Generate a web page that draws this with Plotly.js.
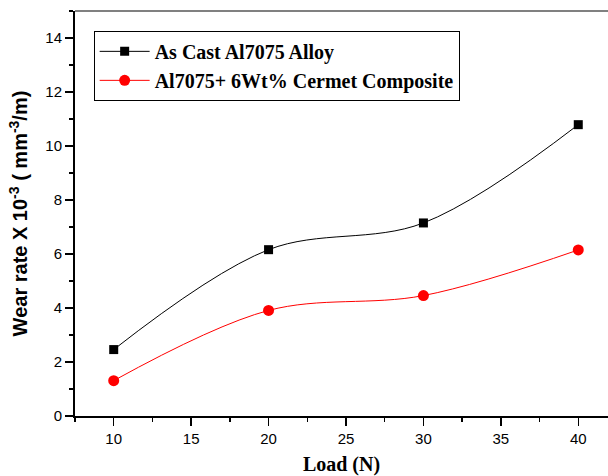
<!DOCTYPE html>
<html><head><meta charset="utf-8">
<script src="https://cdn.plot.ly/plotly-3.0.1.min.js"></script>
<style>html,body{margin:0;padding:0;background:#fff;}#chart{width:608px;height:476px;}</style>
</head><body><div id="chart"></div>
<script>
const loads = [10, 20, 30, 40];
const asCast = [2.46, 6.16, 7.15, 10.79];
const composite = [1.31, 3.91, 4.46, 6.15];
const seriesNames = ["As Cast Al7075 Alloy", "Al7075+ 6Wt% Cermet Composite"];

const traces = [
  {x: loads, y: asCast, name: seriesNames[0], mode: 'lines+markers', type: 'scatter',
   line: {color: '#000000', width: 1, shape: 'spline', smoothing: 1},
   marker: {symbol: 'square', size: 9, color: '#000000'}},
  {x: loads, y: composite, name: seriesNames[1], mode: 'lines+markers', type: 'scatter',
   line: {color: '#ff0000', width: 1, shape: 'spline', smoothing: 1},
   marker: {symbol: 'circle', size: 11, color: '#ff0000'}}
];

const layout = {
  width: 608, height: 476,
  margin: {l: 75, r: 0, t: 11, b: 60},
  paper_bgcolor: '#ffffff', plot_bgcolor: '#ffffff',
  showlegend: true,
  legend: {x: 0.035, y: 0.951, xanchor: 'left', yanchor: 'top',
    bordercolor: '#000000', borderwidth: 1, bgcolor: '#ffffff',
    font: {family: 'Liberation Serif, Times New Roman, serif', size: 20, color: '#000000', weight: 'bold'},
    tracegroupgap: 0, itemwidth: 50},
  xaxis: {range: [7.5, 41.92], tick0: 10, dtick: 5, ticks: 'outside', ticklen: 8, tickwidth: 1.5,
    tickcolor: '#000', showline: true, linecolor: '#000', linewidth: 2, zeroline: false, showgrid: false,
    tickfont: {family: 'Liberation Sans, Arial, sans-serif', size: 15, color: '#000'},
    minor: {dtick: 2.5, tick0: 7.5, ticks: 'outside', ticklen: 4, tickwidth: 1.5, tickcolor: '#000', showgrid: false},
    title: {text: '<b>Load (N)</b>', standoff: 12,
      font: {family: 'Liberation Serif, Times New Roman, serif', size: 20, color: '#000'}}},
  yaxis: {range: [0, 15], tick0: 0, dtick: 2, ticks: 'outside', ticklen: 8, tickwidth: 1.5,
    tickcolor: '#000', showline: true, linecolor: '#000', linewidth: 2, zeroline: false, showgrid: false,
    tickfont: {family: 'Liberation Sans, Arial, sans-serif', size: 15, color: '#000'},
    minor: {dtick: 1, ticks: 'outside', ticklen: 4, tickwidth: 1.5, tickcolor: '#000', showgrid: false},
    title: {text: '<b>Wear rate X 10<sup>-3</sup> ( mm<sup>-3</sup>/m)</b>', standoff: 12,
      font: {family: 'Liberation Sans, Arial, sans-serif', size: 20, color: '#000'}}},
  shapes: [{type: 'line', xref: 'paper', yref: 'paper', x0: 0, x1: 1, y0: 1, y1: 1,
    line: {color: '#808080', width: 2}}]
};

Plotly.newPlot('chart', traces, layout, {displayModeBar: false, staticPlot: true});
</script></body></html>
